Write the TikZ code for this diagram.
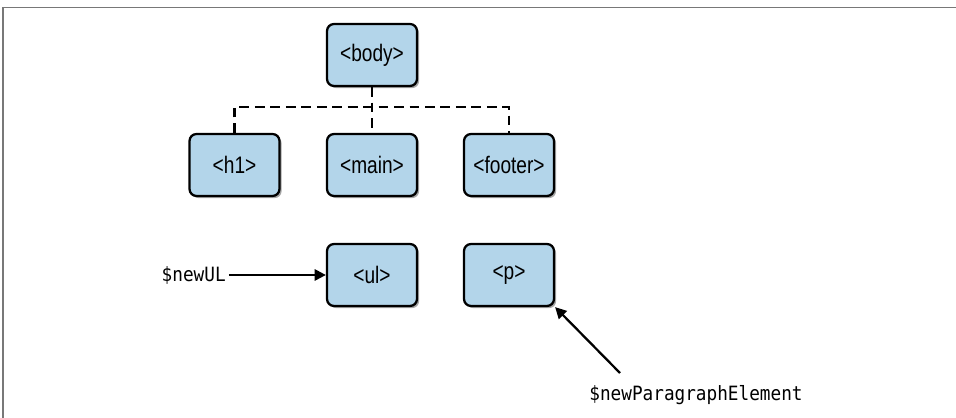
\documentclass[tikz,border=0pt]{standalone}
\usepackage{fontspec}
\setmainfont{Liberation Sans}
\newfontfamily\tagfont[FakeStretch=0.8]{Liberation Sans}
\newfontfamily\varfont[FakeStretch=0.9]{DejaVu Sans Mono}
\definecolor{domblue}{RGB}{179,213,234}
\definecolor{framegray}{RGB}{120,120,120}
\usetikzlibrary{arrows.meta,positioning,shadows}

\begin{document}
\begin{tikzpicture}[
  tagbox/.style={draw=black, line width=1.6pt, fill=domblue, rounded corners=5pt, minimum width=2.25cm, minimum height=1.55cm, font=\tagfont\fontsize{17}{20}\selectfont, drop shadow={shadow xshift=1.5pt, shadow yshift=-1.5pt, opacity=0.35, fill=black}},
  varlabel/.style={font=\varfont\fontsize{14}{17}\selectfont, inner sep=2pt},
  treeline/.style={line width=1.6pt, dash pattern=on 7pt off 4pt},
  pointer/.style={line width=1.6pt, -{Triangle[length=8pt,width=8pt]}}]
  \useasboundingbox (0,0) rectangle (23.9,10.45);

  % frame
  \draw[framegray, line width=1.2pt] (0.075,0) -- (0.075,10.2625) -- (23.9,10.2625);

  % DOM tree
  \node[tagbox] (body) at (9.3,9.075) {<body>};
  \node[tagbox] (h1) at (5.8625,6.325) {<h1>};
  \node[tagbox] (main) at (9.3,6.325) {<main>};
  \node[tagbox] (footer) at (12.725,6.325) {<footer>};

  \draw[treeline] (body.south) -- (main.north);
  \draw[treeline] (h1.north) -- ++(0,0.65) -| (footer.north);

  % new elements
  \node[tagbox] (ul) at (9.3,3.575) {<ul>};
  \node[tagbox] (p) at (12.725,3.575) {<p>};

  \node[varlabel, anchor=east] (newul) at (5.72,3.575) {\$newUL};
  \draw[pointer] (newul.east) -- (ul.west);

  \node[varlabel] (newpara) at (17.4,0.575) {\$newParagraphElement};
  \coordinate (paratail) at (15.5,1.125);
  \draw[pointer] (paratail) -- (p.south east);
\end{tikzpicture}
\end{document}
